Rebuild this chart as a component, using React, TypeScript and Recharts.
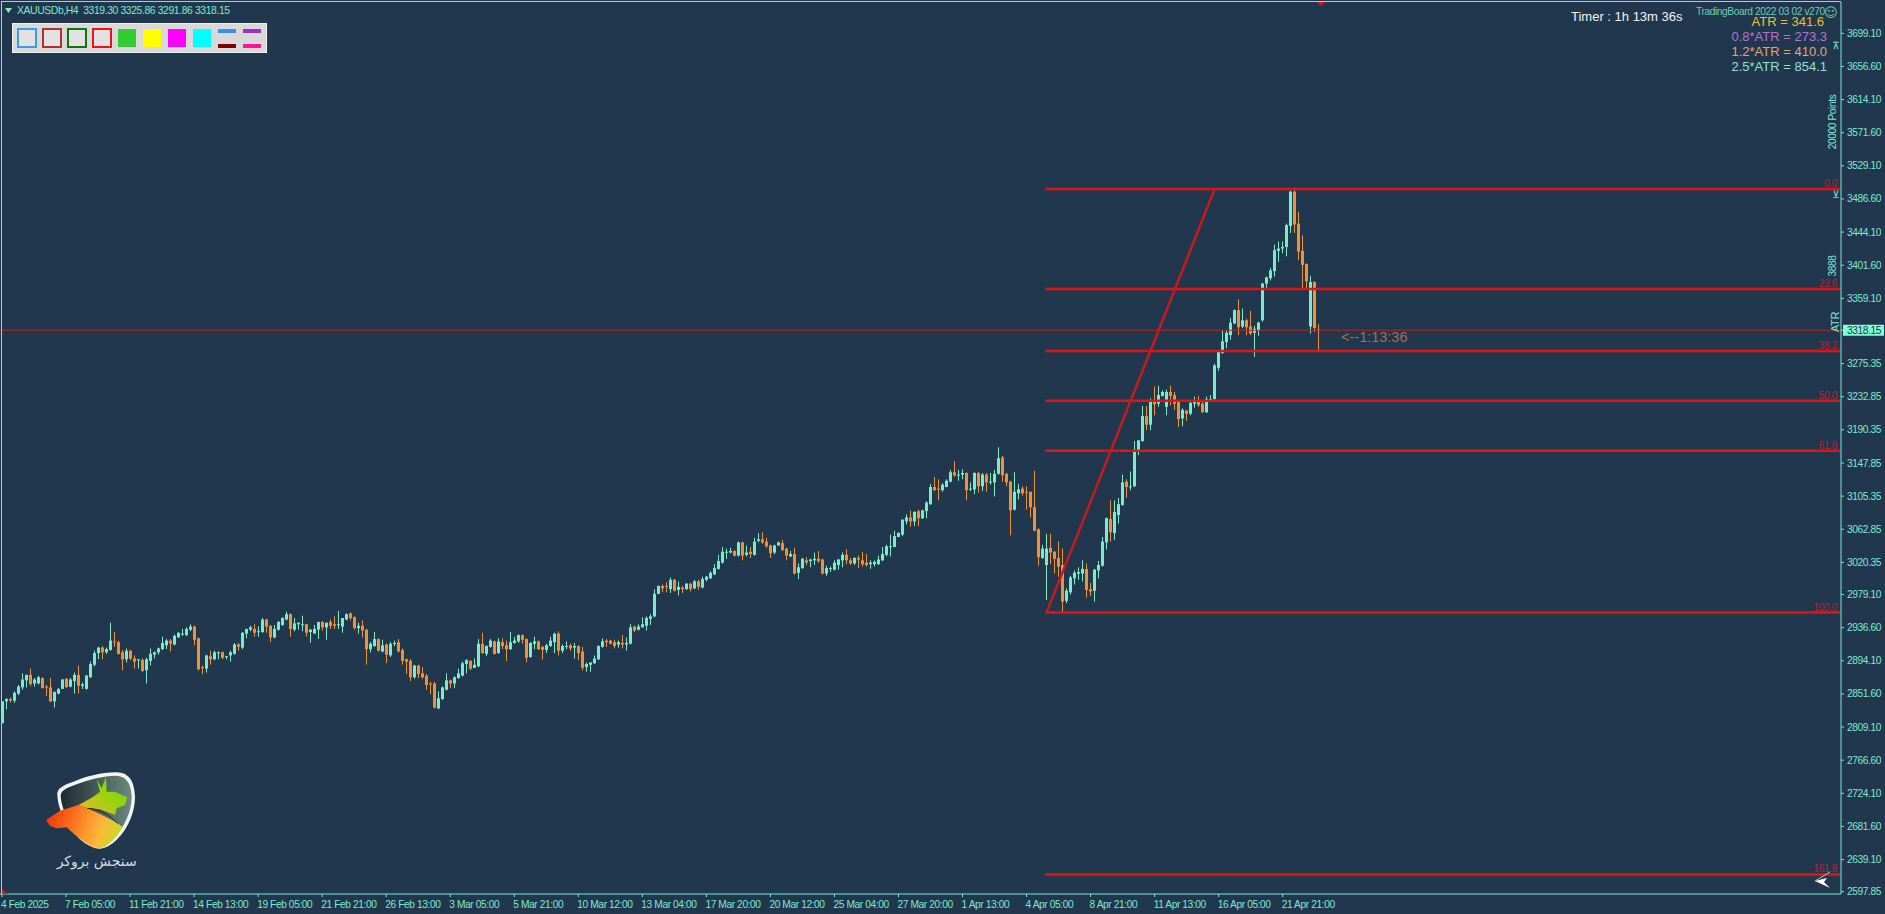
// App.tsx - XAUUSDb H4 candles with fibonacci levels, drawn with Recharts
import { Bar, ComposedChart, ReferenceLine, XAxis, YAxis } from 'recharts';

const BG = '#20374d';
const AQUA = '#7fe9cf';
const UP = '#7eeac8';
const DOWN = '#ee9234';
const AXIS_FONT = '"Liberation Sans", sans-serif';
const AXIS_SIZE = 10.2;
const AXIS_SPACING = -0.4;

const opens = [
  2814,2842,2845,2843,2852,2860,2869,2876,2865,2865,
  2872,2861,2860,2842,2852,2858,2871,2861,2868,2876,
  2862,2858,2873,2889,2904,2911,2905,2908,2919,2918,
  2905,2896,2907,2897,2895,2895,2882,2894,2902,2905,
  2909,2914,2920,2915,2924,2928,2927,2934,2938,2923,
  2886,2884,2900,2896,2904,2905,2899,2901,2903,2915,
  2911,2929,2934,2935,2931,2931,2947,2939,2924,2934,
  2940,2947,2954,2934,2941,2940,2941,2931,2929,2934,
  2944,2937,2944,2941,2940,2938,2947,2955,2950,2936,
  2939,2934,2909,2913,2922,2906,2915,2901,2916,2918,
  2908,2896,2894,2873,2888,2878,2875,2865,2865,2833,
  2845,2857,2869,2865,2872,2875,2890,2894,2885,2887,
  2916,2903,2912,2919,2904,2918,2914,2909,2917,2919,
  2927,2922,2899,2916,2919,2912,2908,2913,2918,2929,
  2907,2912,2914,2911,2913,2906,2886,2889,2891,2896,
  2912,2920,2920,2918,2915,2917,2915,2916,2938,2934,
  2937,2939,2948,2951,2980,2990,2990,2986,2998,2985,
  2988,2986,2993,2987,2996,
  2988,2998,3000,3005,3012,3020,3033,3033,3035,3029,
  3046,3030,3034,3030,3048,3050,3047,3042,3033,3042,
  3045,3038,3028,3031,3007,3013,3023,3022,3023,3025,
  3024,3006,3012,3011,3017,3023,3030,3023,3019,3026,
  3023,3020,3018,3018,3018,3023,3030,3040,3040,3053,
  3056,3073,3078,3073,3086,3077,3086,3095,3117,3115,
  3113,3117,3124,3136,3132,3133,3135,3114,3114,3135,
  3118,3133,3123,3123,3134,3155,3134,3124,3088,3109,
  3115,3111,3111,3091,3063,
  3026,3017,3039,3034,3026,3017,2971,2982,3000,3006,
  3006,3012,2986,2984,3010,3016,3046,3076,3058,3081,
  3094,3124,3117,3118,3163,3176,3208,3197,3228,3224,
  3234,3220,3239,3235,3226,3205,3215,3211,3224,3227,
  3224,3213,3228,3230,3270,3289,3303,3312,3327,3344,
  3323,3331,3323,3315,3318,3331,3378,3385,3394,3420,
  3423,3425,3452,3496,3455,3420,3403,3323,3380,3319.3,
];

const closes = [
  2842,2845,2843,2853,2861,2870,2876,2864,2870,2873,
  2859,2860,2842,2854,2858,2870,2860,2870,2876,2862,
  2864,2875,2890,2904,2911,2905,2909,2920,2918,2903,
  2896,2907,2897,2893,2896,2881,2896,2903,2905,2910,
  2917,2920,2916,2926,2930,2929,2935,2938,2921,2883,
  2885,2901,2896,2905,2905,2898,2900,2905,2915,2912,
  2930,2935,2937,2930,2932,2947,2938,2924,2935,2944,
  2949,2954,2935,2942,2943,2941,2930,2934,2935,2944,
  2937,2943,2939,2939,2941,2949,2954,2949,2936,2939,
  2933,2909,2916,2922,2907,2914,2902,2916,2917,2906,
  2894,2893,2873,2888,2877,2873,2863,2864,2834,2846,
  2860,2869,2865,2873,2878,2891,2895,2884,2889,2916,
  2904,2913,2920,2903,2919,2913,2909,2918,2920,2927,
  2921,2898,2917,2919,2909,2908,2914,2920,2929,2907,
  2913,2913,2910,2913,2904,2885,2890,2892,2897,2913,
  2919,2918,2916,2913,2918,2915,2917,2937,2933,2938,
  2941,2949,2951,2980,2990,2987,2989,2998,2984,2989,
  2986,2993,2986,2996,2989,
  2999,3002,3007,3013,3022,3034,3034,3035,3029,3046,
  3029,3033,3031,3047,3050,3046,3041,3032,3042,3046,
  3036,3029,3031,3006,3014,3025,3020,3024,3025,3022,
  3006,3013,3013,3020,3024,3030,3023,3019,3026,3024,
  3018,3017,3020,3021,3024,3031,3041,3041,3054,3058,
  3075,3078,3073,3085,3077,3087,3097,3117,3113,3114,
  3120,3125,3136,3132,3133,3135,3113,3115,3135,3118,
  3133,3123,3124,3134,3154,3132,3123,3087,3111,3114,
  3109,3110,3091,3061,3027,
  3038,3038,3033,3025,3015,2970,2984,3001,3007,3008,
  3012,2985,2983,3011,3017,3047,3077,3059,3085,3095,
  3123,3117,3118,3165,3177,3208,3197,3228,3223,3235,
  3239,3239,3234,3224,3204,3216,3211,3225,3226,3222,
  3213,3230,3230,3273,3292,3304,3315,3328,3344,3322,
  3331,3322,3314,3320,3328,3378,3386,3395,3421,3423,
  3425,3453,3496,3454,3419,3402,3381,3380,3321,3318.15,
];

const highs = [
  2842,2846,2847,2855,2863,2878,2876,2884,2872,2875,
  2873,2863,2872,2855,2859,2871,2872,2872,2879,2888,
  2866,2876,2893,2907,2912,2913,2911,2943,2931,2920,
  2908,2910,2908,2901,2896,2897,2898,2910,2906,2911,
  2925,2922,2922,2928,2931,2935,2937,2941,2939,2924,
  2888,2902,2907,2907,2906,2906,2900,2907,2917,2917,
  2931,2935,2939,2941,2938,2949,2948,2940,2940,2945,
  2950,2957,2955,2949,2943,2952,2941,2935,2940,2944,
  2945,2943,2947,2951,2958,2949,2955,2956,2951,2943,
  2946,2935,2918,2931,2923,2921,2916,2918,2920,2922,
  2910,2897,2896,2889,2889,2886,2877,2867,2867,2855,
  2861,2878,2870,2874,2884,2893,2896,2895,2897,2922,
  2930,2914,2922,2920,2923,2923,2920,2931,2925,2928,
  2928,2923,2918,2925,2920,2913,2916,2925,2930,2932,
  2915,2919,2916,2917,2914,2912,2892,2892,2901,2914,
  2923,2922,2921,2921,2920,2927,2924,2941,2939,2941,
  2950,2951,2954,2986,2991,2992,2995,3001,2999,2996,
  2990,2994,2994,2998,2998,
  3002,3003,3009,3018,3030,3040,3038,3039,3036,3047,
  3047,3042,3040,3052,3058,3059,3052,3043,3043,3047,
  3049,3039,3035,3039,3019,3026,3027,3025,3033,3035,
  3025,3016,3015,3023,3025,3033,3037,3026,3027,3029,
  3034,3031,3023,3023,3029,3040,3043,3056,3061,3059,
  3076,3082,3087,3086,3088,3088,3099,3121,3130,3127,
  3122,3127,3139,3150,3139,3140,3136,3123,3136,3136,
  3135,3135,3135,3139,3168,3157,3135,3125,3136,3121,
  3118,3118,3111,3138,3064,
  3043,3057,3057,3035,3047,3038,2987,3003,3010,3014,
  3023,3019,2994,3012,3022,3053,3078,3100,3100,3103,
  3133,3127,3137,3176,3177,3221,3221,3231,3246,3247,
  3241,3242,3247,3239,3229,3218,3216,3227,3233,3234,
  3228,3233,3235,3275,3293,3318,3318,3334,3345,3358,
  3346,3333,3343,3324,3329,3379,3387,3398,3428,3432,
  3432,3455,3497,3501,3470,3440,3404,3388,3381,3325.86,
];

const lows = [
  2814,2832,2841,2840,2850,2857,2860,2862,2861,2864,
  2859,2849,2841,2834,2851,2858,2860,2860,2852,2852,
  2858,2857,2872,2887,2896,2896,2903,2907,2912,2902,
  2882,2892,2895,2884,2884,2880,2865,2888,2897,2902,
  2908,2909,2906,2914,2924,2926,2926,2932,2914,2882,
  2877,2879,2889,2895,2896,2896,2896,2893,2902,2907,
  2909,2923,2932,2925,2925,2930,2930,2918,2923,2933,
  2939,2946,2925,2932,2934,2932,2925,2917,2929,2922,
  2933,2921,2935,2935,2935,2930,2946,2946,2934,2929,
  2924,2889,2905,2912,2906,2905,2891,2899,2913,2905,
  2889,2877,2868,2871,2872,2871,2857,2851,2833,2832,
  2844,2856,2859,2859,2871,2874,2878,2882,2885,2886,
  2903,2900,2911,2902,2903,2909,2894,2908,2916,2917,
  2916,2892,2898,2909,2908,2896,2904,2912,2904,2901,
  2904,2909,2907,2897,2895,2882,2880,2880,2890,2895,
  2911,2912,2915,2910,2911,2910,2907,2915,2931,2933,
  2937,2933,2940,2950,2980,2982,2982,2981,2983,2978,
  2981,2985,2983,2986,2985,
  2987,2996,2999,3004,3011,3019,3025,3032,3028,3028,
  3023,3028,3026,3029,3046,3044,3039,3026,3031,3042,
  3035,3023,3027,3005,2999,3012,3017,3014,3017,3020,
  3005,3003,3008,3010,3011,3014,3018,3017,3017,3013,
  3015,3015,3012,3015,3017,3022,3028,3028,3040,3053,
  3054,3069,3066,3067,3067,3076,3077,3094,3112,3100,
  3111,3117,3123,3130,3125,3127,3100,3112,3108,3110,
  3112,3111,3120,3105,3133,3124,3118,3055,3087,3101,
  3106,3088,3078,3060,3016,
  3025,2972,3018,3006,3002,2957,2968,2979,2992,2998,
  2996,2975,2977,2970,3000,3015,3037,3047,3049,3070,
  3093,3103,3113,3117,3158,3175,3190,3190,3209,3220,
  3233,3209,3222,3216,3194,3195,3202,3209,3219,3220,
  3212,3212,3227,3229,3266,3288,3295,3306,3326,3312,
  3321,3312,3312,3284,3311,3329,3370,3382,3387,3406,
  3417,3413,3443,3443,3408,3372,3372,3314,3316,3291.86,
];

const lastPrice = 3318.15;

const priceTicks = [
  3699.1, 3656.6, 3614.1, 3571.6, 3529.1, 3486.6, 3444.1, 3401.6, 3359.1, 3318.15,
  3275.35, 3232.85, 3190.35, 3147.85, 3105.35, 3062.85, 3020.35, 2979.1, 2936.6,
  2894.1, 2851.6, 2809.1, 2766.6, 2724.1, 2681.6, 2639.1, 2597.85,
];

const timeTickIndexes = [0, 16, 32, 48, 64, 80, 96, 112, 128, 144, 160, 176, 192, 208, 224, 240, 256, 272, 288, 304, 320];
const timeLabels = [
  '4 Feb 2025', '7 Feb 05:00', '11 Feb 21:00', '14 Feb 13:00', '19 Feb 05:00', '21 Feb 21:00',
  '26 Feb 13:00', '3 Mar 05:00', '5 Mar 21:00', '10 Mar 12:00', '13 Mar 04:00', '17 Mar 20:00',
  '20 Mar 12:00', '25 Mar 04:00', '27 Mar 20:00', '1 Apr 13:00', '4 Apr 05:00', '8 Apr 21:00',
  '11 Apr 13:00', '16 Apr 05:00', '21 Apr 21:00',
];

const fibLabels = ['0.0', '23.6', '38.2', '50.0', '61.8', '100.0', '161.8'];
const fibPrices = [3499.3, 3371, 3291.5, 3227.6, 3163.5, 2955.9, 2620];

const atrLines = [
  { text: 'ATR = 341.6', color: '#e8c42a', top: 14.5, right: 61 },
  { text: '0.8*ATR = 273.3', color: '#b474d4', top: 29.5, right: 58 },
  { text: '1.2*ATR = 410.0', color: '#e2a678', top: 44.5, right: 58 },
  { text: '2.5*ATR = 854.1', color: '#8fe2d2', top: 59.5, right: 58 },
];

const toolButtons = [
  { border: '#3c9be8', fill: 'transparent' },
  { border: '#b03030', fill: 'transparent' },
  { border: '#0a780a', fill: 'transparent' },
  { border: '#f01010', fill: 'transparent' },
  { border: 'transparent', fill: '#32cd32' },
  { border: 'transparent', fill: '#ffff00' },
  { border: 'transparent', fill: '#ff00ff' },
  { border: 'transparent', fill: '#00ffff' },
];
const lineButtons = [
  ['#3592ec', '#800000'],
  ['#9932cc', '#ff1493'],
];

// 460 slots of 4px: the candles only fill the left part, the rest is the chart shift
const TOTAL_SLOTS = 460;
const FIB_START = 261;
const TREND_END = 303;

const rows = Array.from({ length: TOTAL_SLOTS }, (_, idx) =>
  idx < opens.length
    ? { idx, open: opens[idx], close: closes[idx], high: highs[idx], low: lows[idx], range: [lows[idx], highs[idx]] }
    : { idx },
);

function Candle(props: any) {
  const { x, y, width, height, payload } = props;
  if (payload == null || payload.open == null) return null;
  const { open, close, high, low } = payload;
  const perPrice = height / (high - low);
  const top = y + (high - Math.max(open, close)) * perPrice;
  const bottom = y + (high - Math.min(open, close)) * perPrice;
  const wickX = Math.floor(x + width / 2);
  const color = close >= open ? UP : DOWN;
  return (
    <g>
      <rect x={wickX} y={y} width={1} height={Math.max(height, 1)} fill={color} />
      <rect x={wickX - 1} y={top} width={3} height={Math.max(bottom - top, 1)} fill={color} />
    </g>
  );
}

function PriceTick({ x, y, payload }: any) {
  const label = (
    <text
      x={x + 1}
      y={y + 3.5}
      fontSize={AXIS_SIZE}
      letterSpacing={AXIS_SPACING}
      fontFamily={AXIS_FONT}
      fill={payload.value === lastPrice ? BG : AQUA}
    >
      {payload.value.toFixed(2)}
    </text>
  );
  if (payload.value === lastPrice) {
    return (
      <g>
        <rect x={x - 3} y={y - 5.5} width={41} height={11} fill="#7fffd4" />
        {label}
      </g>
    );
  }
  return label;
}

function TimeTick({ x, y, payload }: any) {
  const label = timeLabels[timeTickIndexes.indexOf(payload.value)];
  return (
    <text x={x - 1} y={y + 9} fontSize={AXIS_SIZE} letterSpacing={AXIS_SPACING} fontFamily={AXIS_FONT} fill={AQUA}>
      {label}
    </text>
  );
}

function Logo() {
  return (
    <svg width={400} height={174} viewBox="0 0 1200 522" style={{ position: 'absolute', left: 0, top: 740 }}>
      <defs>
        <linearGradient id="wolf" x1="0" y1="0" x2="1" y2="0.2">
          <stop offset="0" stopColor="#f02a08" />
          <stop offset="0.45" stopColor="#fb7a20" />
          <stop offset="0.8" stopColor="#fdb83a" />
          <stop offset="1" stopColor="#cfd428" />
        </linearGradient>
        <linearGradient id="bull" x1="0" y1="1" x2="1" y2="0">
          <stop offset="0" stopColor="#f5b52e" />
          <stop offset="0.6" stopColor="#8fd60a" />
          <stop offset="1" stopColor="#6fcc10" />
        </linearGradient>
        <linearGradient id="glass" x1="0" y1="0" x2="1" y2="0">
          <stop offset="0" stopColor="#1d2a30" />
          <stop offset="1" stopColor="#6b8a80" />
        </linearGradient>
      </defs>
      <path
        d="M172 165 C170 145 190 135 220 125 C260 108 310 96 350 97 C385 98 403 120 405 170 C405 230 370 290 330 315 C300 335 280 325 255 310 C215 280 175 225 172 165 Z"
        fill="#f4f4f4"
      />
      <path
        d="M182 168 C182 152 198 145 224 135 C262 120 310 107 348 107 C378 108 393 128 395 170 C395 225 362 282 325 306 C300 322 282 316 260 302 C222 274 186 222 182 168 Z"
        fill="url(#glass)"
      />
      <path
        d="M235 195 C260 182 285 168 300 155 L290 118 L305 145 L318 110 L320 155 L345 155 L382 172 L375 195 L350 205 L345 225 L300 208 L262 205 Z"
        fill="url(#bull)"
      />
      <path
        d="M138 240 L180 212 L235 195 L262 205 L300 222 L345 245 L368 260 C350 295 320 322 300 325 C270 325 230 290 200 262 L170 265 L150 258 Z"
        fill="url(#wolf)"
      />
      <path d="M262 205 C295 205 330 225 352 250" stroke="#1a2a30" strokeWidth={3} fill="none" />
      <text x={290} y={378} textAnchor="middle" fontSize={42} fontFamily='"DejaVu Sans", sans-serif' fill="#d8dde0">
        سنجش بروکر
      </text>
    </svg>
  );
}

function Toolbar() {
  return (
    <div
      style={{
        position: 'absolute',
        left: 12,
        top: 23,
        width: 253,
        height: 28,
        background: '#d9d9d9',
        border: '1px solid #f2f2f2',
      }}
    >
      {toolButtons.map((b, i) => (
        <div
          key={i}
          style={{
            position: 'absolute',
            left: i < 4 ? 4 + i * 25 : 105 + (i - 4) * 25,
            top: b.fill === 'transparent' ? 4 : 5,
            width: b.fill === 'transparent' ? 20 : 18,
            height: b.fill === 'transparent' ? 20 : 18,
            boxSizing: 'border-box',
            border: b.fill === 'transparent' ? `2px solid ${b.border}` : 'none',
            background: b.fill === 'transparent' ? '#e2e2e2' : b.fill,
          }}
        />
      ))}
      {lineButtons.map((pair, i) => (
        <div key={i}>
          <div style={{ position: 'absolute', left: 205 + i * 25, top: 5, width: 18, height: 4, background: pair[0] }} />
          <div style={{ position: 'absolute', left: 205 + i * 25, top: 20, width: 18, height: 4, background: pair[1] }} />
        </div>
      ))}
    </div>
  );
}

const overlayText = {
  position: 'absolute',
  whiteSpace: 'pre',
  fontFamily: AXIS_FONT,
  lineHeight: 1,
} as const;

function SideLabel({ text, x, y, size = AXIS_SIZE }: { text: string; x: number; y: number; size?: number }) {
  return (
    <text
      x={x}
      y={y}
      fontSize={size}
      letterSpacing={AXIS_SPACING}
      fontFamily={AXIS_FONT}
      fill={AQUA}
      textAnchor="middle"
      transform={`rotate(-90 ${x} ${y})`}
    >
      {text}
    </text>
  );
}

export default function App() {
  return (
    <div style={{ position: 'absolute', left: 0, top: 0, width: 1885, height: 914, background: BG, overflow: 'hidden' }}>
      <ComposedChart
        width={1885}
        height={914}
        data={rows}
        margin={{ top: 2, right: 0, bottom: 0, left: 0 }}
        barCategoryGap={0}
        barGap={0}
      >
        <XAxis
          dataKey="idx"
          type="category"
          height={20}
          ticks={timeTickIndexes}
          interval={0}
          tick={<TimeTick />}
          tickSize={3}
          stroke={AQUA}
          tickLine={{ stroke: AQUA }}
          axisLine={{ stroke: AQUA }}
        />
        <YAxis
          orientation="right"
          width={44}
          type="number"
          domain={[2594.9, 3739.3]}
          ticks={priceTicks}
          interval={0}
          tick={<PriceTick />}
          tickSize={3}
          tickLine={{ stroke: AQUA }}
          axisLine={{ stroke: AQUA }}
        />
        <Bar dataKey="range" shape={<Candle />} isAnimationActive={false} />
        <ReferenceLine y={lastPrice} stroke="#b5262c" strokeWidth={1} />
        {fibPrices.map((price, i) => (
          <ReferenceLine
            key={fibLabels[i]}
            segment={[
              { x: FIB_START, y: price },
              { x: TOTAL_SLOTS - 1, y: price },
            ]}
            stroke="#e01414"
            strokeWidth={2.5}
            strokeLinecap="square"
            label={{
              value: fibLabels[i],
              position: 'insideBottomRight',
              offset: 2,
              fill: '#b82233',
              fontSize: AXIS_SIZE,
              letterSpacing: AXIS_SPACING,
              fontFamily: AXIS_FONT,
            }}
          />
        ))}
        <ReferenceLine
          segment={[
            { x: FIB_START, y: fibPrices[5] },
            { x: TREND_END, y: fibPrices[0] },
          ]}
          stroke="#c81a1e"
          strokeWidth={2.5}
        />
      </ComposedChart>

      <svg width={1885} height={914} style={{ position: 'absolute', left: 0, top: 0 }}>
        <line x1={1.5} y1={1} x2={1.5} y2={894} stroke={AQUA} />
        <line x1={1} y1={1.5} x2={1841} y2={1.5} stroke={AQUA} />
        <polygon points="5,8 12,8 8.5,13" fill={AQUA} />
        <polygon points="1317,2 1325,2 1321,6" fill="#e01414" />
        <polygon points="2,889 2,894 8,894" fill="#e01414" />
        <line x1={1815} y1={881} x2={1830} y2={872} stroke="#b9c2cc" strokeWidth={1} />
        <polygon points="1815,881 1827,878 1824,882 1830,888" fill="#ffffff" />
        <SideLabel text="20000  Points" x={1836} y={122} />
        <SideLabel text="3888" x={1836} y={266} />
        <SideLabel text="ATR" x={1839} y={322} size={11} />
        <text x={1836} y={49} fontSize={10} textAnchor="middle" fontFamily='"DejaVu Sans", sans-serif' fill={AQUA}>
          ⊼
        </text>
        <text x={1836} y={198} fontSize={10} textAnchor="middle" fontFamily='"DejaVu Sans", sans-serif' fill={AQUA}>
          ⊻
        </text>
      </svg>

      <div style={{ ...overlayText, left: 17, top: 6, fontSize: 10.4, letterSpacing: -0.4, color: AQUA }}>
        {'XAUUSDb,H4  3319.30 3325.86 3291.86 3318.15'}
      </div>
      <div style={{ ...overlayText, left: 1571, top: 10, fontSize: 13, color: '#f4f4f4' }}>Timer : 1h 13m 36s</div>
      <div style={{ ...overlayText, left: 1696, top: 7, fontSize: 10.2, letterSpacing: -0.4, color: '#6dcfb0' }}>
        TradingBoard 2022 03 02 v270
      </div>
      <div style={{ ...overlayText, left: 1824, top: 6, fontSize: 13, color: '#6dcfb0', fontFamily: '"DejaVu Sans", sans-serif' }}>
        ☺
      </div>
      {atrLines.map((line) => (
        <div key={line.text} style={{ ...overlayText, right: line.right, top: line.top, fontSize: 13, color: line.color }}>
          {line.text}
        </div>
      ))}
      <div style={{ ...overlayText, left: 1341, top: 330, fontSize: 14.5, color: '#a56f50' }}>{'<--1:13:36'}</div>

      <Toolbar />
      <Logo />
    </div>
  );
}
